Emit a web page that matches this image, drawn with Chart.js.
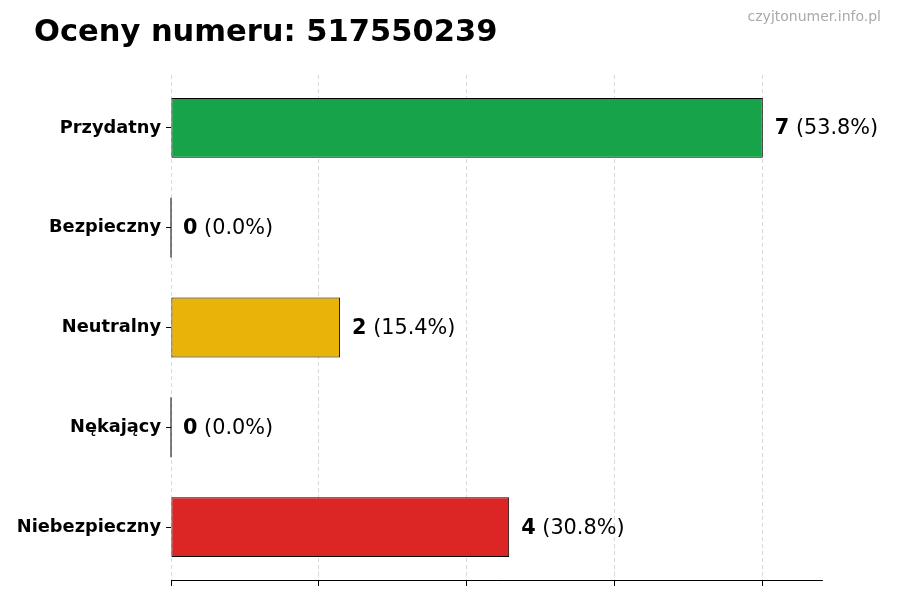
<!DOCTYPE html>
<html><head><meta charset="utf-8">
<script src="https://cdn.jsdelivr.net/npm/chart.js@4"></script>
<style>html,body{margin:0;padding:0;background:#fff}#wrap{width:900px;height:600px}</style>
</head><body><div id="wrap"><canvas id="c" width="900" height="600"></canvas></div>
<script>
const categories = ['Przydatny', 'Bezpieczny', 'Neutralny', 'Nękający', 'Niebezpieczny'];
const counts = [7, 0, 2, 0, 4];
const percents = ['53.8%', '0.0%', '15.4%', '0.0%', '30.8%'];
const barColors = ['#16a34a', '#eab308', '#eab308', '#eab308', '#dc2626'];
const titleText = 'Oceny numeru: 517550239';
const watermark = 'czyjtonumer.info.pl';
const xMax = 7.7;
const xStep = 1.75;
const yMargin = 0.53;

const FONT = '"DejaVu Sans", sans-serif';

const overlay = {
  id: 'overlay',
  afterDatasetsDraw(chart) {
    const ctx = chart.ctx;
    const meta = chart.getDatasetMeta(0);
    ctx.save();
    meta.data.forEach((bar, i) => {
      const half = bar.height / 2;
      if (counts[i] === 0) {
        ctx.strokeStyle = '#000';
        ctx.lineWidth = 1;
        ctx.beginPath();
        ctx.moveTo(bar.x, bar.y - half);
        ctx.lineTo(bar.x, bar.y + half);
        ctx.stroke();
      }
      const x0 = bar.x + 12;
      const yc = bar.y + 1;
      ctx.textBaseline = 'middle';
      ctx.textAlign = 'left';
      ctx.fillStyle = '#000';
      ctx.font = 'bold 20.8px ' + FONT;
      const n = String(counts[i]);
      ctx.fillText(n, x0, yc);
      const w = ctx.measureText(n).width;
      ctx.font = '20.8px ' + FONT;
      ctx.fillText(' (' + percents[i] + ')', x0 + w, yc);
    });
    ctx.restore();
  },
  afterDraw(chart) {
    const ctx = chart.ctx;
    ctx.save();
    ctx.fillStyle = '#000';
    ctx.font = 'bold 30.5px ' + FONT;
    ctx.textAlign = 'left';
    ctx.textBaseline = 'alphabetic';
    ctx.fillText(titleText, 34, 41);
    ctx.fillStyle = '#aaaaaa';
    ctx.font = '14px ' + FONT;
    ctx.textAlign = 'right';
    ctx.textBaseline = 'middle';
    ctx.fillText(watermark, 881, 17);
    ctx.restore();
  }
};

new Chart(document.getElementById('c'), {
  type: 'bar',
  data: {
    datasets: [{
      data: counts.map((v, i) => ({ x: v, y: i })),
      backgroundColor: barColors,
      borderColor: '#000',
      borderWidth: 1,
      borderSkipped: false,
      categoryPercentage: 1,
      barPercentage: 0.6
    }]
  },
  options: {
    indexAxis: 'y',
    responsive: false,
    animation: false,
    devicePixelRatio: 1,
    layout: { padding: { top: 75, right: 78, bottom: 14, left: 0 } },
    plugins: { legend: { display: false }, title: { display: false }, tooltip: { enabled: false } },
    scales: {
      x: {
        type: 'linear',
        min: 0, max: xMax,
        afterBuildTicks(scale) {
          const t = [];
          for (let v = 0; v <= xMax + 1e-9; v += xStep) t.push({ value: v });
          scale.ticks = t;
        },
        ticks: { display: false },
        grid: { color: '#d0d0d0', lineWidth: 0.8, drawTicks: true, tickLength: 6, tickColor: '#000', tickWidth: 1 },
        border: { display: true, color: '#000', width: 1, dash: [4, 3] }
      },
      y: {
        type: 'linear',
        reverse: true,
        offset: false,
        min: -yMargin, max: categories.length - 1 + yMargin,
        afterBuildTicks(scale) {
          scale.ticks = categories.map((c, i) => ({ value: i }));
        },
        afterFit(scale) { scale.width = 171; },
        ticks: {
          color: '#000', font: { family: FONT, size: 17.8, weight: 'bold' }, padding: 5,
          callback: (v) => categories[v]
        },
        grid: { display: true, offset: false, drawOnChartArea: false, drawTicks: true, tickLength: 5, tickColor: '#000', color: '#000' },
        border: { display: false }
      }
    }
  },
  plugins: [overlay]
});
</script>
</body></html>
